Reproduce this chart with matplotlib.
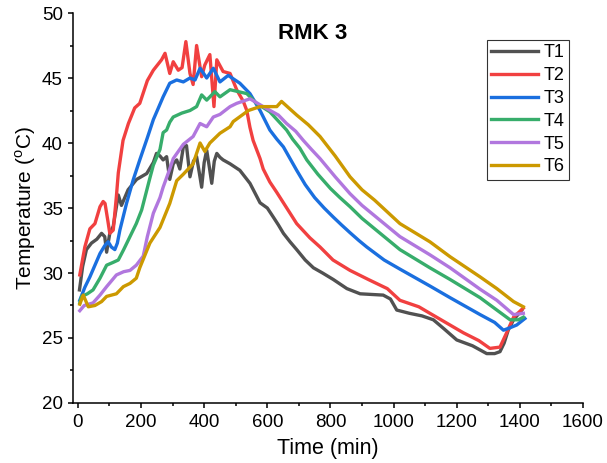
import matplotlib.pyplot as plt
from matplotlib.ticker import MultipleLocator

plt.rcParams['font.family'] = ['Liberation Sans', 'DejaVu Sans']

# T1
t1 = [5, 15, 27, 43, 60, 75, 85, 91, 101, 112, 128, 138, 159, 186, 218, 239, 249, 260, 270, 281,
      291, 302, 313, 323, 334, 344, 355, 366, 376, 384, 392, 400, 408, 416, 424, 432, 440, 450,
      460, 482, 513, 545, 577, 600, 619, 635, 651, 672, 693, 720, 746, 775, 809, 852, 894, 930,
      967, 990, 1010, 1050, 1090, 1126, 1160, 1200, 1250, 1295, 1320, 1337, 1350, 1363, 1380, 1406]
T1 = [28.7, 30.5, 31.8, 32.3, 32.6, 33.05, 32.8, 31.6, 33.05, 33.6, 36.0, 35.2, 36.4, 37.2, 37.65,
      38.5, 39.2, 39.0, 38.7, 38.95, 37.2, 38.4, 38.7, 38.0, 39.7, 39.8, 37.4, 38.6, 38.95, 37.8,
      36.6, 38.5, 39.45, 38.2, 36.9, 38.6, 39.2, 38.9, 38.7, 38.4, 37.9, 36.9, 35.4, 35.0, 34.3,
      33.7, 33.05, 32.4, 31.8, 31.0, 30.4, 30.0, 29.5, 28.8, 28.4, 28.35, 28.3, 28.0, 27.15, 26.9,
      26.7, 26.4, 25.7, 24.85, 24.4, 23.8, 23.8, 23.95, 24.6, 25.6, 26.4, 27.15]

# T2
t2 = [6, 22, 38, 54, 70, 80, 86, 95, 101, 112, 122, 128, 143, 160, 180, 196, 220, 239, 265, 276,
      291, 302, 318, 330, 342, 355, 365, 376, 392, 402, 418, 431, 440, 460, 482, 503, 524, 535,
      545, 555, 566, 577, 587, 608, 630, 651, 672, 693, 735, 767, 808, 862, 920, 967, 980, 1020,
      1080, 1115, 1168, 1221, 1270, 1305, 1337, 1358, 1380, 1411]
T2 = [29.85, 32.0, 33.4, 33.8, 35.1, 35.5, 35.35, 34.0, 33.05, 33.3, 35.9, 37.7, 40.2, 41.5, 42.7,
      43.05, 44.8, 45.6, 46.4, 46.9, 45.35, 46.25, 45.6, 45.8, 47.8, 45.35, 44.5, 47.5, 45.1, 46.0,
      46.8, 42.8, 46.4, 45.5, 45.35, 44.1, 43.2, 42.5, 41.2, 40.2, 39.5, 38.8, 38.0, 37.0, 36.2,
      35.4, 34.6, 33.8, 32.7, 32.0, 31.0, 30.2, 29.5, 28.95, 28.8, 27.9, 27.4, 26.9, 26.15, 25.4,
      24.8, 24.2, 24.3, 25.4, 26.6, 27.3]

# T3
t3 = [6, 22, 38, 54, 70, 85, 96, 106, 117, 125, 133, 154, 175, 196, 220, 239, 255, 270, 291, 313,
      334, 355, 371, 387, 408, 429, 450, 476, 513, 545, 577, 608, 630, 651, 672, 693, 720, 750,
      780, 809, 835, 862, 890, 915, 970, 1020, 1115, 1179, 1274, 1320, 1348, 1370, 1390, 1416]
T3 = [27.9, 28.9, 29.7, 30.6, 31.5, 32.1, 32.4, 32.0, 31.8, 32.3, 33.3, 35.35, 37.15, 38.7, 40.4,
      41.8, 42.7, 43.55, 44.6, 44.85, 44.7, 45.0, 44.85, 45.75, 45.0, 45.75, 44.7, 45.2, 44.6,
      43.8, 42.5, 41.0, 40.3, 39.7, 38.8, 37.9, 36.8, 35.8, 35.0, 34.3, 33.7, 33.1, 32.5, 32.0,
      31.0, 30.3, 29.0, 28.1, 26.8, 26.2, 25.6, 25.8, 26.0, 26.5]

# T4
t4 = [6, 12, 30, 48, 70, 91, 110, 128, 145, 165, 185, 202, 228, 239, 260, 270, 281, 291, 302, 329,
      355, 376, 392, 408, 434, 450, 482, 535, 566, 608, 661, 680, 703, 725, 760, 800, 830, 862,
      900, 940, 980, 1020, 1115, 1179, 1274, 1327, 1369, 1395, 1411]
T4 = [27.7, 28.2, 28.4, 28.7, 29.6, 30.6, 30.8, 31.0, 31.8, 32.8, 33.8, 34.85, 37.3, 38.3, 39.5,
      40.8, 41.0, 41.6, 42.0, 42.3, 42.5, 42.8, 43.7, 43.3, 43.95, 43.55, 44.1, 43.8, 43.05, 42.4,
      41.0, 40.3, 39.6, 38.7, 37.6, 36.5, 35.8, 35.1, 34.2, 33.4, 32.6, 31.8, 30.4, 29.5, 28.1,
      27.15, 26.4, 26.4, 26.6]

# T5
t5 = [6, 20, 48, 70, 91, 110, 122, 145, 165, 185, 207, 220, 239, 260, 270, 291, 302, 334, 365, 387,
      408, 429, 450, 482, 503, 545, 587, 635, 661, 690, 714, 740, 767, 815, 862, 900, 940, 980,
      1020, 1115, 1179, 1274, 1327, 1380, 1411]
T5 = [27.1, 27.5, 27.7, 28.3, 28.95, 29.5, 29.85, 30.1, 30.2, 30.6, 31.3, 32.8, 34.6, 35.8, 36.6,
      38.0, 38.8, 39.9, 40.5, 41.5, 41.25, 42.0, 42.2, 42.8, 43.05, 43.4, 42.8, 42.15, 41.5, 40.9,
      40.2, 39.5, 38.8, 37.4, 36.1, 35.2, 34.4, 33.6, 32.8, 31.4, 30.4, 28.75, 27.9, 26.8, 26.9]

# T6
t6 = [6, 17, 33, 54, 75, 91, 122, 144, 165, 185, 196, 228, 260, 291, 313, 334, 365, 387, 402, 418,
      450, 482, 492, 540, 577, 630, 645, 693, 730, 767, 815, 862, 900, 940, 980, 1020, 1115, 1179,
      1274, 1327, 1380, 1411]
T6 = [27.6, 28.3, 27.4, 27.5, 27.8, 28.2, 28.4, 28.95, 29.2, 29.6, 30.4, 32.3, 33.5, 35.35, 37.1,
      37.6, 38.4, 40.0, 39.35, 40.0, 40.75, 41.25, 41.65, 42.5, 42.8, 42.8, 43.2, 42.15, 41.4,
      40.5, 39.0, 37.4, 36.4, 35.6, 34.7, 33.8, 32.4, 31.25, 29.7, 28.8, 27.8, 27.4]

labels = ['T1', 'T2', 'T3', 'T4', 'T5', 'T6']
colors = ['#515151', '#F14040', '#1A6FDF', '#37AD6B', '#B177DE', '#CC9900']

fig = plt.figure(figsize=(6.07, 4.63), dpi=100)
ax = fig.add_axes([0.120, 0.1296, 0.8405, 0.8423])

for t, T, lab, c in zip([t1, t2, t3, t4, t5, t6], [T1, T2, T3, T4, T5, T6], labels, colors):
    ax.plot(t, T, color=c, lw=2.4, label=lab)

ax.set_xlim(-16, 1600)
ax.set_ylim(20, 50)
ax.xaxis.set_major_locator(MultipleLocator(200))
ax.xaxis.set_minor_locator(MultipleLocator(100))
ax.yaxis.set_major_locator(MultipleLocator(5))
ax.yaxis.set_minor_locator(MultipleLocator(2.5))
ax.spines['top'].set_visible(False)
ax.spines['right'].set_visible(False)
for s in ['left', 'bottom']:
    ax.spines[s].set_linewidth(1.1)
ax.tick_params(which='major', direction='out', length=3.6, width=1.1, labelsize=13.5)
ax.tick_params(axis='x', which='major', pad=4.5)
ax.tick_params(which='minor', direction='out', length=2.2, width=1.1)

ax.set_xlabel('Time (min)', fontsize=15.5, labelpad=5)
ax.set_ylabel('Temperature ($^{\\mathregular{o}}$C)', fontsize=15, labelpad=3)
ax.text(0.47, 0.947, 'RMK 3', transform=ax.transAxes, ha='center', va='center',
        fontsize=16, fontweight='bold')

leg = ax.legend(loc='upper right', bbox_to_anchor=(0.9725, 0.931), fontsize=13,
                frameon=True, fancybox=False, edgecolor='black', handlelength=2.6,
                handletextpad=0.3, labelspacing=0.32, borderpad=0.25, borderaxespad=0)
leg.get_frame().set_linewidth(0.8)

fig.savefig('out.png', dpi=100)
